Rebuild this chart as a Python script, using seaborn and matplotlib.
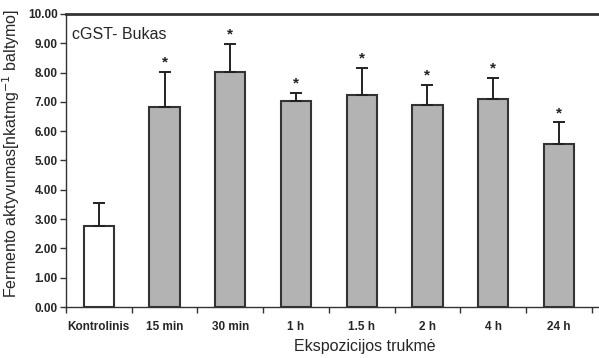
import matplotlib
matplotlib.use("Agg")
import matplotlib.pyplot as plt
import seaborn as sns
import pandas as pd
import numpy as np
from matplotlib.ticker import FixedLocator, FormatStrFormatter

categories = ["Kontrolinis", "15 min", "30 min", "1 h", "1.5 h", "2 h", "4 h", "24 h"]
means = [2.75, 6.82, 8.02, 7.02, 7.23, 6.88, 7.09, 5.58]
upper_err = [0.80, 1.21, 0.95, 0.30, 0.93, 0.71, 0.74, 0.72]
significant = [False, True, True, True, True, True, True, True]
colors = ["#ffffff", "#b3b3b3", "#b3b3b3", "#b3b3b3", "#b3b3b3", "#b3b3b3", "#b3b3b3", "#b3b3b3"]

sns.set_style("white")
plt.rcParams['font.family'] = ['Liberation Sans', 'DejaVu Sans']

df = pd.DataFrame({"cat": categories, "val": means})

fig = plt.figure(figsize=(5.99, 3.58), dpi=100)
ax = fig.add_axes([66/599, 1-307/358, (599-66)/599, (307-14)/358])

sns.barplot(data=df, x="cat", y="val", hue="cat", palette=colors, legend=False,
            width=0.46, edgecolor="#333333", linewidth=1.5, ax=ax, saturation=1)

x = np.arange(len(categories))
ax.errorbar(x, means, yerr=[np.zeros(len(means)), upper_err], fmt="none",
            ecolor="#222222", elinewidth=1.4, capsize=4, capthick=1.4, zorder=5)

for i in range(len(categories)):
    if significant[i]:
        ax.text(x[i], means[i] + upper_err[i] + 0.32, "*", ha="center", va="center",
                fontsize=11, fontweight="bold", color="#222222")

ax.set_ylim(0, 10)
ax.set_xlim(-0.5, 7.61)
ax.set_yticks(np.arange(0, 10.01, 1))
ax.yaxis.set_major_formatter(FormatStrFormatter("%.2f"))
for lab in ax.get_yticklabels():
    lab.set_fontweight("bold")
    lab.set_fontsize(8.5)

ax.xaxis.set_major_locator(FixedLocator(np.arange(-0.5, 7.6, 1)))
ax.xaxis.set_minor_locator(FixedLocator(x))
ax.set_xticklabels([""] * 9)
ax.set_xticklabels(categories, minor=True, fontweight="bold", fontsize=8.5)
ax.tick_params(axis="x", which="major", direction="out", length=4, width=1, color="#333333", bottom=True)
ax.tick_params(axis="x", which="minor", length=0, pad=10)
ax.tick_params(axis="y", direction="out", length=4, width=1, color="#333333", left=True, pad=2)

for s in ["left", "bottom"]:
    ax.spines[s].set_color("#333333")
    ax.spines[s].set_linewidth(1.0)
ax.spines["top"].set_color("#333333")
ax.spines["top"].set_linewidth(2.0)
ax.spines["right"].set_visible(False)

ax.set_xlabel("Ekspozicijos trukmė", fontsize=11.5)
ax.xaxis.set_label_coords(0.561, -0.108)
ax.xaxis.label.set_va("top")
ax.set_ylabel("Fermento aktyvumas[nkatmg$^{-1}$ baltymo]", fontsize=11.5)
ax.yaxis.set_label_coords(-0.083, 0.524)

ax.text(0.012, 0.93, "cGST- Bukas", transform=ax.transAxes, fontsize=11.5, va="center", ha="left")

fig.savefig("out.png", dpi=100)
